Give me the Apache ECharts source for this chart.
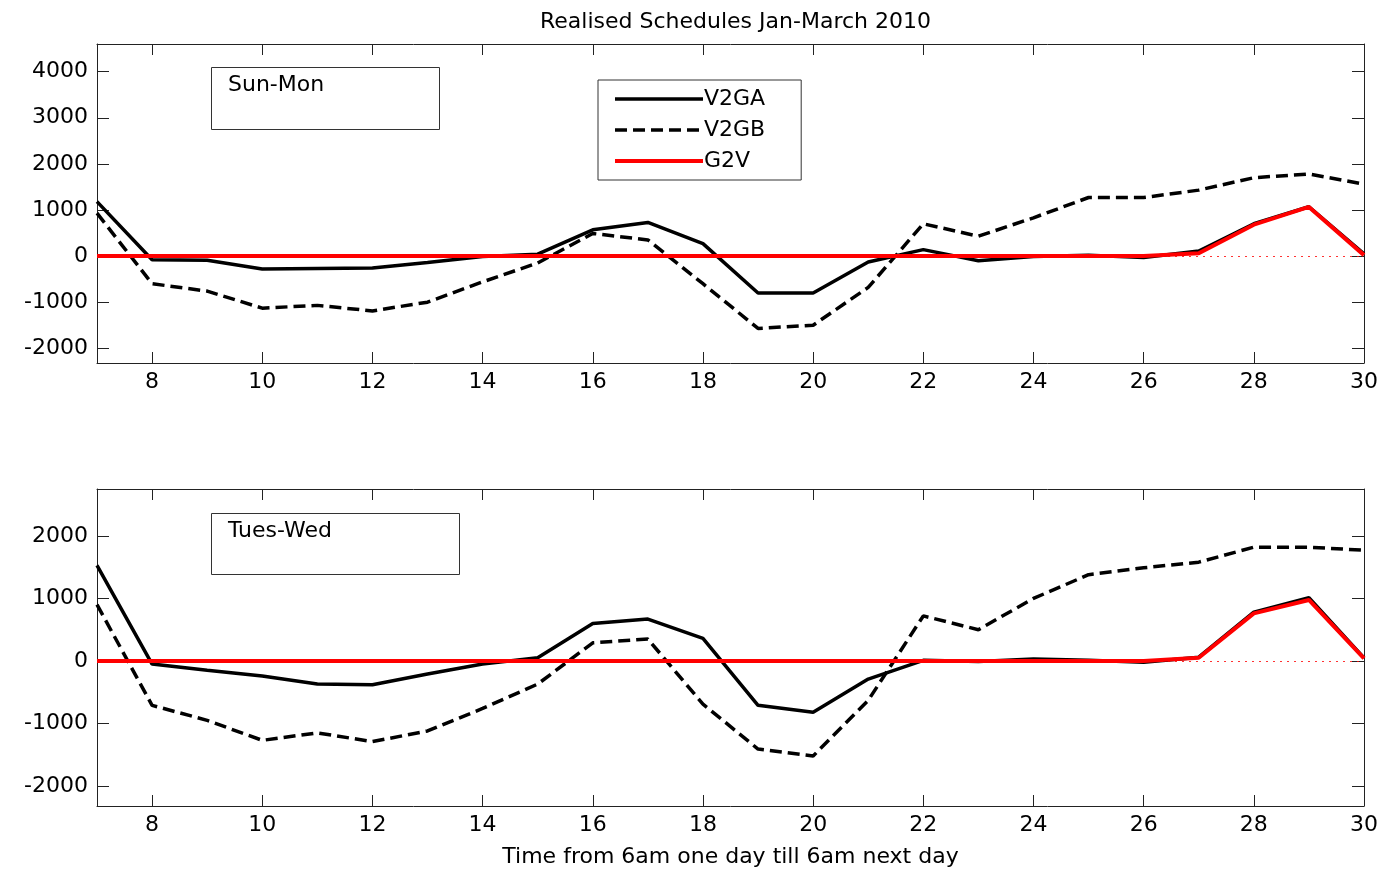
<!DOCTYPE html>
<html>
<head>
<meta charset="utf-8">
<script src="https://cdn.jsdelivr.net/npm/echarts@6/dist/echarts.min.js"></script>
<style>
html,body{margin:0;padding:0;background:#fff;}
#main{width:1383px;height:869px;}
</style>
</head>
<body>
<div id="main"></div>
<script>
// ---- data ----
const hours = [7,8,9,10,11,12,13,14,15,16,17,18,19,20,21,22,23,24,25,26,27,28,29,30];
const xTicks = [8,10,12,14,16,18,20,22,24,26,28,30];
const yTicksTop = [-2000,-1000,0,1000,2000,3000,4000];
const yTicksBottom = [-2000,-1000,0,1000,2000];

// Sun-Mon panel
const sunMonV2GA = [1180,-80,-90,-280,-270,-260,-140,-10,40,570,730,270,-800,-800,-130,140,-100,-10,20,-30,110,700,1070,50];
const sunMonV2GB = [930,-600,-760,-1130,-1070,-1190,-1000,-560,-150,490,350,-600,-1570,-1500,-680,700,430,830,1270,1270,1430,1700,1780,1560];
const sunMonG2V  = [0,0,0,0,0,0,0,0,0,0,0,0,0,0,0,0,0,0,0,0,60,680,1065,20];

// Tues-Wed panel
const tueWedV2GA = [1530,-50,-150,-240,-370,-380,-210,-50,50,600,670,360,-710,-820,-290,10,-10,30,10,-20,60,780,1010,50];
const tueWedV2GB = [900,-710,-950,-1270,-1150,-1290,-1120,-760,-370,290,350,-690,-1410,-1520,-630,720,500,1000,1380,1490,1580,1820,1820,1770];
const tueWedG2V  = [0,0,0,0,0,0,0,0,0,0,0,0,0,0,0,0,0,0,0,0,50,760,975,40];

const seriesNames = ['V2GA','V2GB','G2V'];
const panelLabels = ['Sun-Mon','Tues-Wed'];
const titleText = 'Realised Schedules Jan-March 2010';
const xName = 'Time from 6am one day till 6am next day';

// ---- chart ----
const FONT = 'DejaVu Sans, Liberation Sans, Arial, sans-serif';
const FS = 22;
const pair = arr => hours.map((h,i)=>[h,arr[i]]);
const boxColor = '#222';

function xAxes(gi, withName){
  return [
    {type:'value', gridIndex:gi, min:7, max:30, position:'bottom',
     axisLine:{show:true,onZero:false,lineStyle:{color:boxColor,width:1}},
     axisTick:{show:true,inside:true,length:11,customValues:xTicks,lineStyle:{color:boxColor}},
     axisLabel:{show:true,customValues:xTicks,fontSize:FS,fontFamily:FONT,color:'#000',margin:8,formatter:v=>String(v)},
     splitLine:{show:false},
     name: withName ? xName : '', nameLocation:'middle', nameGap:40,
     nameTextStyle:{fontSize:FS,fontFamily:FONT,color:'#000'}},
    {type:'value', gridIndex:gi, min:7, max:30, position:'top',
     axisLine:{show:true,onZero:false,lineStyle:{color:boxColor,width:1}},
     axisTick:{show:true,inside:true,length:11,customValues:xTicks,lineStyle:{color:boxColor}},
     axisLabel:{show:false}, splitLine:{show:false}}
  ];
}
function yAxes(gi, min, max, ticks){
  return [
    {type:'value', gridIndex:gi, min:min, max:max, position:'left',
     axisLine:{show:true,onZero:false,lineStyle:{color:boxColor,width:1}},
     axisTick:{show:true,inside:true,length:12,customValues:ticks,lineStyle:{color:boxColor}},
     axisLabel:{show:true,customValues:ticks,fontSize:FS,fontFamily:FONT,color:'#000',margin:9,formatter:v=>String(v)},
     splitLine:{show:false}},
    {type:'value', gridIndex:gi, min:min, max:max, position:'right',
     axisLine:{show:true,onZero:false,lineStyle:{color:boxColor,width:1}},
     axisTick:{show:true,inside:true,length:12,customValues:ticks,lineStyle:{color:boxColor}},
     axisLabel:{show:false}, splitLine:{show:false}}
  ];
}

function panelSeries(gi, a, b, c){
  const xi = gi*2, yi = gi*2;
  return [
    {name:seriesNames[0], type:'line', xAxisIndex:xi, yAxisIndex:yi, data:pair(a),
     symbol:'none', lineStyle:{color:'#000',width:3.5,type:'solid'}, itemStyle:{color:'#000'}, z:2, animation:false},
    {name:seriesNames[1], type:'line', xAxisIndex:xi, yAxisIndex:yi, data:pair(b),
     symbol:'none', lineStyle:{color:'#000',width:3.5,type:[12,6]}, itemStyle:{color:'#000'}, z:2, animation:false},
    {name:seriesNames[2], type:'line', xAxisIndex:xi, yAxisIndex:yi, data:pair(c),
     symbol:'none', lineStyle:{color:'#ff0000',width:4,type:'solid'}, itemStyle:{color:'#ff0000'}, z:3, animation:false,
     markLine:{silent:true, symbol:['none','none'], label:{show:false}, animation:false,
       lineStyle:{color:'#ff0000',type:[2,5],width:1,opacity:0.8}, data:[{yAxis:0}]}}
  ];
}

const chart = echarts.init(document.getElementById('main'), null, {renderer:'canvas'});
chart.setOption({
  backgroundColor:'#fff',
  animation:false,
  title:{text:titleText, left:730.5, top:6, textAlign:'center',
    textStyle:{fontSize:FS,fontWeight:'normal',fontFamily:FONT,color:'#000'}},
  legend:{
    data:seriesNames, seriesIndex:[0,1,2],
    orient:'vertical', left:598, top:80,
    backgroundColor:'#fff', borderColor:'#333', borderWidth:1,
    padding:[8,36,8,15], itemGap:9, itemWidth:88, itemHeight:20,
    itemStyle:{opacity:0},
    lineStyle:{width:'inherit'},
    textStyle:{fontSize:FS,fontFamily:FONT,color:'#000',padding:[0,0,0,-4]},
    selectedMode:false
  },
  grid:[
    {left:97, top:44, width:1267, height:319},
    {left:97, top:489, width:1267, height:319}
  ],
  xAxis:[...xAxes(0,false), ...xAxes(1,true)],
  yAxis:[...yAxes(0,-2320,4600,yTicksTop), ...yAxes(1,-2320,2750,yTicksBottom)],
  series:[...panelSeries(0,sunMonV2GA,sunMonV2GB,sunMonG2V), ...panelSeries(1,tueWedV2GA,tueWedV2GB,tueWedG2V)],
  graphic:[
    {type:'rect', shape:{x:211.5,y:67.5,width:228,height:62}, style:{fill:'#fff',stroke:'#333',lineWidth:1}, z:10},
    {type:'text', x:228, y:74, style:{text:panelLabels[0],fontSize:FS,fontFamily:FONT,fill:'#000'}, z:11},
    {type:'rect', shape:{x:211.5,y:513.5,width:248,height:61}, style:{fill:'#fff',stroke:'#333',lineWidth:1}, z:10},
    {type:'text', x:228, y:520, style:{text:panelLabels[1],fontSize:FS,fontFamily:FONT,fill:'#000'}, z:11}
  ]
});
</script>
</body>
</html>
